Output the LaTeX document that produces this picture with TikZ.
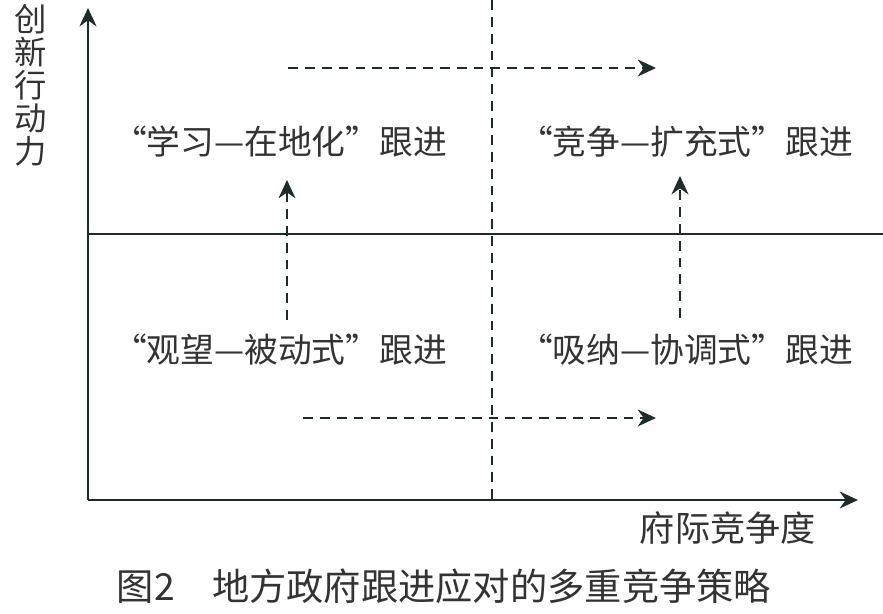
\documentclass[tikz,border=0pt]{standalone}
\usepackage{fontspec}
\setmainfont{Noto Sans CJK SC}
\usepackage{xcolor}
\usetikzlibrary{arrows.meta}
\definecolor{axisc}{HTML}{1E2B2B}
\definecolor{textc}{HTML}{333333}

\begin{document}
\begin{tikzpicture}[x=0.025cm, y=-0.025cm, font=\fontsize{24}{28}\selectfont, text=textc,
  axisline/.style={line width=1.6pt, axisc, -{Stealth[length=13pt, width=12pt]}},
  dashline/.style={line width=1.5pt, axisc, dash pattern=on 7pt off 5pt},
  dasharrow/.style={dashline, -{Stealth[length=13pt, width=12pt]}}]
  \useasboundingbox (0,0) rectangle (883,613);

  % axes
  \coordinate (origin) at (88,500);
  \coordinate (ytip) at (88,8);
  \coordinate (xtip) at (858,500);
  \draw[axisline] (origin) -- (ytip);
  \draw[axisline] (origin) -- (xtip);
  \node[anchor=north, align=center, inner sep=0pt, font=\fontsize{23}{23.5}\selectfont] (ylab) at (31,4) {创\\新\\行\\动\\力};
  \node[anchor=east, inner sep=0pt, font=\fontsize{25}{28}\selectfont] (xlab) at (816,528) {府际竞争度};

  % quadrant dividers
  \coordinate (midleft) at (88,234);
  \coordinate (midright) at (883,234);
  \draw[line width=1.5pt, axisc] (midleft) -- (midright);
  \coordinate (divtop) at (492,0);
  \coordinate (divbot) at (492,500);
  \draw[dashline] (divtop) -- (divbot);

  % quadrant labels
  \node (learn) at (280,142) {“学习—在地化”跟进};
  \node (compete) at (686,142) {“竞争—扩充式”跟进};
  \node (watch) at (280,350) {“观望—被动式”跟进};
  \node (absorb) at (686,350) {“吸纳—协调式”跟进};

  % shifts between strategies
  \coordinate (ua) at (288,68);  \coordinate (ub) at (656,68);
  \coordinate (la) at (303,418); \coordinate (lb) at (656,418);
  \draw[dasharrow] (ua) -- (ub);
  \draw[dasharrow] (la) -- (lb);
  \coordinate (wa) at (287,320); \coordinate (wb) at (287,180);
  \coordinate (aa) at (680,318); \coordinate (ab) at (680,176);
  \draw[dasharrow] (wa) -- (wb);
  \draw[dasharrow] (aa) -- (ab);

  % caption
  \node[font=\fontsize{26.5}{30}\selectfont] (caption) at (444,586) {图2\quad 地方政府跟进应对的多重竞争策略};
\end{tikzpicture}
\end{document}
